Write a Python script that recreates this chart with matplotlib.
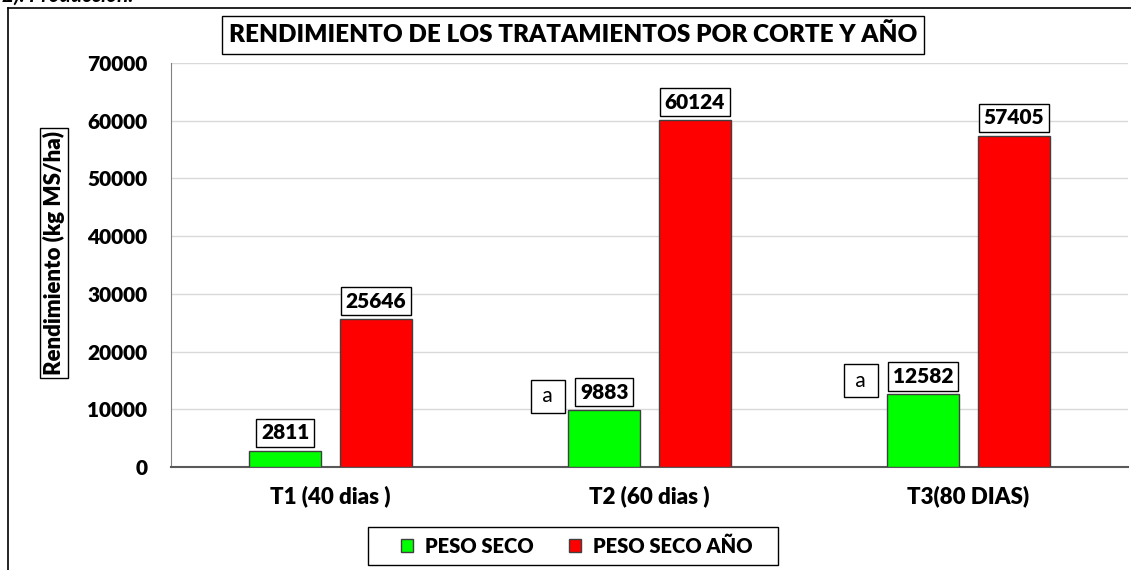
import matplotlib
matplotlib.use("Agg")
import matplotlib.pyplot as plt
from matplotlib.lines import Line2D
from matplotlib.patches import Patch, Rectangle
import numpy as np

categories = ["T1 (40 dias )", "T2 (60 dias )", "T3(80 DIAS)"]
peso_seco = [2811, 9883, 12582]
peso_seco_anio = [25646, 60124, 57405]
letters = ["", "a", "a"]
series_names = ["PESO SECO", "PESO SECO AÑO"]
yticks = [0, 10000, 20000, 30000, 40000, 50000, 60000, 70000]

plt.rcParams['font.family'] = ['Lato', 'DejaVu Sans']
WB = 'heavy'

W, H = 1131, 570
fig = plt.figure(figsize=(W/100, H/100), dpi=100)
ax = fig.add_axes([171/W, 1-467/H, (1128-171)/W, (467-63)/H])

x = np.arange(len(categories))
bw = 0.226
off = 0.142
ax.bar(x - off, peso_seco, bw, color='#00ff00', edgecolor='#404040', linewidth=1, zorder=3)
ax.bar(x + off, peso_seco_anio, bw, color='#ff0000', edgecolor='#404040', linewidth=1, zorder=3)

ax.set_xlim(-0.5, 2.5)
ax.set_ylim(0, 70000)
ax.set_yticks(yticks)
ax.set_yticklabels([str(t) for t in yticks], fontsize=15, fontweight=WB)
ax.set_xticks(x)
ax.set_xticklabels(categories, fontsize=16, fontweight=WB)
ax.tick_params(axis='both', length=0)
ax.tick_params(axis='y', pad=17)
ax.tick_params(axis='x', pad=13)
ax.yaxis.grid(True, color='#d9d9d9', linewidth=1, zorder=0)
ax.set_axisbelow(True)
for s in ['top', 'right']:
    ax.spines[s].set_visible(False)
ax.spines['left'].set_color('#808080')
ax.spines['bottom'].set_color('#595959')
ax.spines['bottom'].set_linewidth(1.5)

boxprops = dict(boxstyle='square,pad=0.22', facecolor='white', edgecolor='black', linewidth=1)
for i in range(len(categories)):
    green_lab = None
    for xi, v in [(x[i] - off, peso_seco[i]), (x[i] + off, peso_seco_anio[i])]:
        t = ax.annotate(str(v), (xi, v), xytext=(0, 6), textcoords='offset points',
                        ha='center', va='bottom', fontsize=15, fontweight=WB,
                        bbox=boxprops, zorder=5)
        if green_lab is None:
            green_lab = t
    if letters[i]:
        ax.annotate(" " + letters[i] + " ", xy=(0, 0.5), xycoords=green_lab,
                    xytext=(-23, -3), textcoords='offset points',
                    ha='center', va='center', fontsize=15,
                    bbox=dict(boxstyle='square,pad=0.3', facecolor='white', edgecolor='black', linewidth=1),
                    zorder=5)

# y label
fig.text(54/W, 1-253/H, "Rendimiento (kg MS/ha)", rotation=90, ha='center', va='center',
         fontsize=16, fontweight=WB,
         bbox=dict(boxstyle='square,pad=0.15', facecolor='white', edgecolor='black', linewidth=1))

# title
fig.text(573/W, 1-35/H, "RENDIMIENTO DE LOS TRATAMIENTOS POR CORTE Y AÑO", ha='center', va='center',
         fontsize=17.5, fontweight=WB,
         bbox=dict(boxstyle='square,pad=0.3', facecolor='white', edgecolor='black', linewidth=1))

# legend (frame drawn separately)
handles = [Patch(facecolor='#00ff00', edgecolor='#404040', label=series_names[0]),
           Patch(facecolor='#ff0000', edgecolor='#404040', label=series_names[1])]
fig.add_artist(Rectangle((368/W, 1-565/H), (778-368)/W, (565-527)/H, transform=fig.transFigure,
                         facecolor='white', edgecolor='black', linewidth=1, zorder=1))
leg = fig.legend(handles=handles, loc='center', bbox_to_anchor=(577/W, 1-546/H), ncol=2,
                 frameon=False,
                 prop={'weight': WB, 'size': 14.5}, handlelength=0.6, handleheight=0.6,
                 columnspacing=1.75, handletextpad=0.6, borderpad=0.0, borderaxespad=0)
leg.set_zorder(2)

# outer frame lines
fig.add_artist(Line2D([8/W, 8/W], [0, 1-8/H], transform=fig.transFigure, color='black', linewidth=1.2))
fig.add_artist(Line2D([8/W, 1], [1-8/H, 1-8/H], transform=fig.transFigure, color='black', linewidth=1.2))

# cut-off heading text at top
fig.text(2/W, 1-6/H, "2). Producción.", ha='left', va='bottom', fontsize=15,
         fontweight='bold', fontstyle='italic')

fig.savefig("out.png", dpi=100, facecolor='white')
